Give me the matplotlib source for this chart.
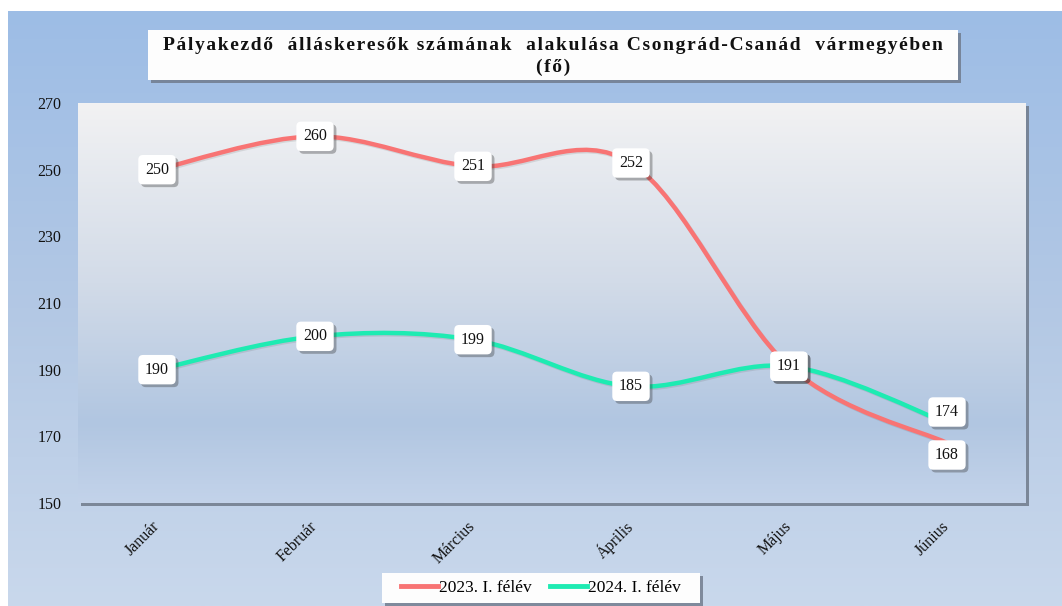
import numpy as np
import matplotlib
matplotlib.use("Agg")
import matplotlib.pyplot as plt
from matplotlib.path import Path
from matplotlib.patches import PathPatch, Rectangle
from matplotlib.lines import Line2D
from matplotlib.colors import LinearSegmentedColormap
import matplotlib.patheffects as pe

plt.rcParams['font.family'] = ['Liberation Serif', 'DejaVu Serif']

cim = 'Pályakezdő  álláskeresők számának  alakulása Csongrád-Csanád  vármegyében'
cim2 = '(fő)'
honapok = ['Január', 'Február', 'Március', 'Április', 'Május', 'Június']
ev_2023 = [250, 260, 251, 252, 191, 168]
ev_2024 = [190, 200, 199, 185, 191, 174]
sorozat_nevek = ['2023. I. félév', '2024. I. félév']
y_ticks = [150, 170, 190, 210, 230, 250, 270]

piros = '#f87474'
zold = '#1eebb2'

W, H = 1062, 606
fig = plt.figure(figsize=(W / 100, H / 100), dpi=100)

# background gradient (whole chart)
bg = fig.add_axes([0, 0, 1, 1])
bg.set_xlim(0, W)
bg.set_ylim(H, 0)
bg.axis('off')
bg_cmap = LinearSegmentedColormap.from_list('bg', ['#9dbde6', '#b3c8e4', '#c9d8ec'])
grad = np.linspace(0, 1, 256).reshape(-1, 1)
bg.imshow(grad, cmap=bg_cmap, extent=[8, W, H, 11], aspect='auto', zorder=0)

# plot area shadow
bg.add_patch(Rectangle((81, 106), 948, 400, fc='#6f7a8a', ec='none', alpha=0.85, zorder=1))
# title box
bg.add_patch(Rectangle((151, 33), 810, 50, fc='#6d7788', ec='none', alpha=0.8, zorder=1))
bg.add_patch(Rectangle((148, 30), 810, 50, fc='#fdfdfd', ec='none', zorder=2))
# legend box
bg.add_patch(Rectangle((385, 576), 318, 30, fc='#6d7788', ec='none', alpha=0.8, zorder=1))
bg.add_patch(Rectangle((382, 573), 318, 30, fc='#fdfdfd', ec='none', zorder=2))


def ritkit(s):
    # letter spacing with hair spaces
    return '\u200a'.join(s)


bg.text(553, 46, ritkit(cim), ha='center', va='center', fontsize=14,
        fontweight='bold', color='#111111', zorder=3)
bg.text(553, 67, ritkit(cim2), ha='center', va='center', fontsize=14,
        fontweight='bold', color='#111111', zorder=3)

ax = fig.add_axes([78 / W, (H - 503) / H, 948 / W, 400 / H])
ax.set_xlim(-0.5, 5.5)
ax.set_ylim(150, 270)
area_cmap = LinearSegmentedColormap.from_list(
    'area', [(0, '#f2f2f3'), (0.45, '#d2dbe8'), (0.8, '#b1c6e1'), (1, '#c3d3ea')])
ax.imshow(grad, cmap=area_cmap, extent=[-0.5, 5.5, 150, 270], aspect='auto', zorder=0)
for s in ax.spines.values():
    s.set_visible(False)


def sima_vonal(xs, ys):
    # Bezier segments through the points (Catmull-Rom style smoothing)
    pts = np.column_stack([xs, ys]).astype(float)
    n = len(pts)
    verts = [pts[0]]
    codes = [Path.MOVETO]
    for i in range(n - 1):
        p0 = pts[i - 1] if i > 0 else pts[i]
        p1 = pts[i]
        p2 = pts[i + 1]
        p3 = pts[i + 2] if i + 2 < n else pts[i + 1]
        c1 = p1 + (p2 - p0) / 6
        c2 = p2 - (p3 - p1) / 6
        verts += [c1, c2, p2]
        codes += [Path.CURVE4] * 3
    return Path(verts, codes)


x = np.arange(len(honapok))
arnyek = [pe.SimpleLineShadow(offset=(1, -1), shadow_color='#555555', alpha=0.15), pe.Normal()]
for vals, szin, z in [(ev_2024, zold, 3), (ev_2023, piros, 4)]:
    patch = PathPatch(sima_vonal(x, vals), fc='none', ec=szin, lw=3.2,
                      capstyle='round', zorder=z)
    patch.set_path_effects(arnyek)
    ax.add_patch(patch)


def cimke(xi, yi, dy=0):
    t = ax.annotate(str(yi), (xi, yi), xytext=(0, dy), textcoords='offset pixels',
                    ha='center', va='center', fontsize=11.5, color='#111111', zorder=6,
                    bbox=dict(boxstyle='round,pad=0.42,rounding_size=0.3',
                              fc='white', ec='none'))
    t.get_bbox_patch().set_path_effects(
        [pe.SimplePatchShadow(offset=(2, -2), shadow_rgbFace='#333333', alpha=0.35), pe.Normal()])


eltol_2023 = [0, 0, 0, 0, 0, -12]
eltol_2024 = [0, 0, 0, 0, 0, 11]
for i in range(len(honapok)):
    cimke(x[i], ev_2024[i], eltol_2024[i])
    cimke(x[i], ev_2023[i], eltol_2023[i])

ax.set_yticks(y_ticks)
ax.set_xticks(x)
ax.set_xticklabels(honapok, rotation=45, ha='right', va='center', rotation_mode='anchor')
ax.tick_params(axis='both', length=0, labelsize=11.5, labelcolor='#111111')
ax.tick_params(axis='y', pad=12)
ax.tick_params(axis='x', pad=15)

kezelok = [Line2D([], [], color=piros, lw=3.5), Line2D([], [], color=zold, lw=3.5)]
leg = fig.legend(kezelok, sorozat_nevek, loc='center', bbox_to_anchor=(541 / W, 1 - 588 / H),
                 ncol=2, frameon=False, fontsize=12.5, handlelength=2.1,
                 handletextpad=0.05, columnspacing=1.1, borderpad=0, borderaxespad=0)
leg.set_zorder(5)

fig.savefig('out.png', dpi=100)
